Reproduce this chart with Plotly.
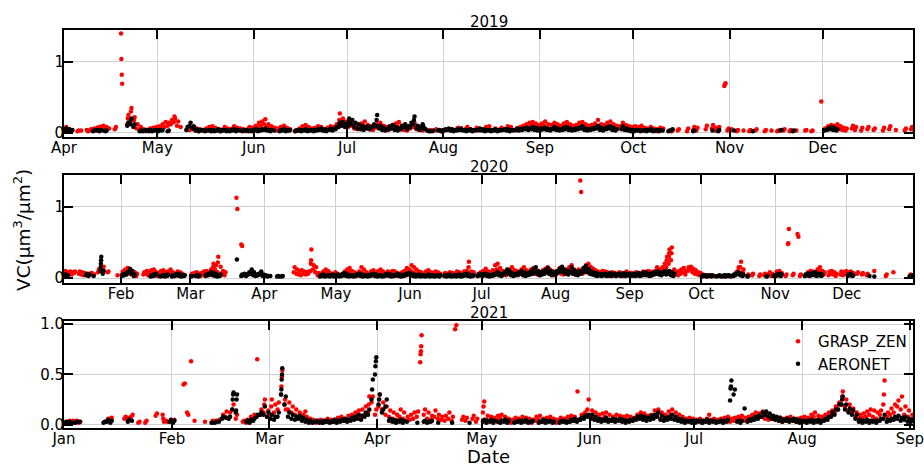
import plotly.graph_objects as go
from datetime import datetime, timedelta

# ---------------- DATA (values in hundredths of um^3/um^2) ----------------
# each entry: (first day, "day1|day2|..."), values per consecutive day, "-" = no data
GRASP_2019 = [
    ("2019-04-01", "6 8|4 5|3|-|2 3|3|-|4 2|3 5|4 6|5 7|8 6|9 10|7 8|6|-|5 8|-|140 104 82 69|-|12 20 25|15 30 35|10 18 22|6 12|4 8|3 5|2 4|3 6|4 7|5 8"),
    ("2019-05-01", "5 9|6 12|8 15|10 14|12 18|15 23 20|10 16|8|-|-|4 6|5 7|3 6|2 5|4|3 6|5 8|6 9|4 7|3 5|2 4|5 8|4 6|3 5|6 9|5 7|4 6|3 5|2 4|6 8|4 7"),
    ("2019-06-01", "5 10|8 14|10 16|12 19|8 12|5 9|4 7|3 6|5 8|6 10|4 7|3 5|-|2 4|3 6|5 9|6 11|4 8|3 6|5 7|6 9|4 8|3 5|5 7|6 9|4 8|8 12|12 18 27|15 20|10 16"),
    ("2019-07-01", "8 14|10 15|6 12|5 10|8 13|10 16|6 11|5 9|4 8|7 12|9 14|6 10|5 8|4 7|6 11|8 13|9 15|5 10|4 8|3 6|6 10|8 14|5 9|4 7|3 6|-|2 4|-|3 5|-|2 3"),
    ("2019-08-01", "-|4|3 5|-|5 7|4 6|-|6 8|5|-|4 7|3 5|-|5 8|6 9|-|4 6|3|5 7|-|6 9|4 8|-|3 6|5 8|7 10|6 12|8 14|10 15|9 13|6 11"),
    ("2019-09-01", "8 13|10 16|6 12|5 11|9 14|7 12|6 10|8 13|10 15|7 12|5 10|6 11|8 14|9 15|7 12|5 10|6 11|8 13|10 18|7 12|6 11|8 14|9 16|7 12|5 10|6 9|8 14|6 11|5 9|4 8"),
    ("2019-10-01", "5 9|4 8|6 10|3 7|4 6|5 8|3 6|2 5|4 7|3 6|-|-|2 4|-|3 5|-|-|2 6|-|4 8|3 7|-|-|5 10|-|6 11|3 7|4 8|-|66 68 70|3 6"),
    ("2019-11-01", "3 5|-|2 4|-|3|-|2 4|-|3 5|-|-|2 4|-|3|-|2 3|-|3 5|-|2 4|-|3|-|-|3 4|-|2 3|-|-|44"),
    ("2019-12-01", "3 6|5 9|7 11|6 10|8 12|5 9|4 7|3 6|-|6 10|4 8|-|3 7|-|5 8|-|4 6|-|-|3 7|-|5 9|-|4|-|-|3 6|-|5 8|4 7"),
]
AERONET_2019 = [
    ("2019-04-01", "4 6|3 5|2 4|-|-|-|-|-|-|2 3|3 4|2 4|3|2 3|-|-|-|-|-|-|10 14|12 18 20|8 12|-|2 3|2 3|3 4|2 4|2 3|3 4"),
    ("2019-05-01", "2 4|3 4|-|2 3|-|-|-|-|-|4 8|10 14|6 9|3 5|2 4|3 4|2 3|3 4|2 4|2 3|3 5|2 4|3 4|2 3|2 4|3 5|2 4|3|2 4|3 4|2 3|2 4"),
    ("2019-06-01", "3 5|2 4|3 5|4 6|3 4|2 4|3|-|2 4|3 5|2 4|3 4|-|2 3|3 4|2 4|3 5|2 4|3 4|2 4|3 5|4 6|3 5|2 4|4 6|3 5|5 8|8 12 14|10 15|8 12"),
    ("2019-07-01", "10 16 20|12 18|8 14|6 12|5 10|4 8|6 9|5 8|8 12|10 18 25|6 10|4 7|3 5|5 9|6 11|4 8|3 6|5 10|8 12|5 9|8 14|12 18 23|6 10|4 8|12 9 6|5 3|2|2 3|-|3 4|2 3"),
    ("2019-08-01", "3 5|4 6|3 5|2 4|3 5|4 6|3 4|2 4|3 5|2 4|3 4|4 6|3 5|2 4|3 4|2 4|3 5|2 4|3 4|4 5|3 5|2 4|3 4|4 6|3 5|4 6|5 7|4 6|5 8|4 7|3 6"),
    ("2019-09-01", "4 6|5 7|4 6|3 5|5 8|4 6|3 5|4 7|5 8|4 6|3 5|4 6|5 7|6 9|4 6|3 5|4 6|5 7|6 10|4 7|3 6|5 8|6 9|4 7|3 5|-|5 9|4 6|3 5|2 4"),
    ("2019-10-01", "2 4|3 4|2 3|3 4|2 4|3 5|2 3|3 4|2 4|3|-|2 3|3 5|-|-|-|-|-|-|2 3|-|-|-|-|-|3|-|2 4|-|-|-"),
    ("2019-11-01", "-|3|-|-|-|-|-|2|-|-|-|-|-|-|-|-|3 4|-|-|-|2 3|-|-|-|-|-|-|-|-|-"),
    ("2019-12-01", "3|4 6|5 8|4 7|3 5"),
]
GRASP_2020 = [
    ("2020-01-08", "5 10|4 8|6 9|5 8|7 9|-|6 9|5 8|4 7|-|5 6|6 7|4 5|-|8 12|10 15|12 16|-|8 9|-|-|-|4|-"),
    ("2020-02-01", "5 9|6 12|8 14|7 12|5 10|4 8|3 6|-|-|5 8|6 10|4 9|5 11|6 12|4 8|3 7|5 10|6 11|4 8|5 9|6 12|4 8|3 6|5 9|4 8|3 6|-|-|-"),
    ("2020-03-01", "3 6|4 7|5 8|4 6|3 7|5 9|6 10|4 8|8 12|10 15 20|12 18|8 22 30|6 16|5 10|4 8|-|-|-|-|113 97|-|47 45|-|-|-|-|-|-|-|-|-"),
    ("2020-04-01", "-|-|-|-|-|-|-|-|-|-|-|-|8 15|6 12|5 10|4 11|6 9|5 8|6 9|10 20 25 40|12 18|8 15|4 7|3 6|5 9|8 12|6 10|4 7|3 5|5 8"),
    ("2020-05-01", "4 6|-|3 5|5 9|6 12|8 14|5 10|4 8|3 6|5 9|8 15|6 12|4 8|3 6|5 9|6 11|4 8|5 10|6 12|4 9|3 6|5 9|4 8|6 10|5 9|4 7|3 6|5 8|6 10|8 14|6 12"),
    ("2020-06-01", "10 18|8 15|6 12|5 9|4 8|3 6|5 9|6 11|4 8|3 7|5 9|4 8|3 6|-|4 7|3 6|5 8|4 7|3 6|5 9|4 8|3 6|5 9|6 10|8 15 23|5 9|4 8|-|3 6|5 8"),
    ("2020-07-01", "6 10|8 13|5 9|4 8|6 11|10 18|12 20|8 14|6 10|5 9|4 8|6 12|8 15|6 11|5 10|4 8|6 12|8 15|6 11|5 9|7 12|8 14|6 10|5 9|4 8|6 11|8 13|9 15|6 12|5 10|4 8"),
    ("2020-08-01", "6 10|8 14|6 12|5 10|7 12|8 15|10 18|6 12|5 10|8 12|137 121|6 14|8 18|12 20|10 16|8 13|6 11|5 9|4 8|6 10|5 9|4 8|3 7|5 8|4 7|3 6|5 8|4 7|3 6|5 9|4 7"),
    ("2020-09-01", "4 7|3 6|5 8|4 7|3 6|5 9|4 8|6 10|5 9|4 8|6 10|15|8 12|10 15|12 20|15 25 30|20 30 35 40|25 35 43|8 12|5 8|4 10|6 12|8 14|5 10|10 15|12 16|8 13|6 11|5 8|4 7"),
    ("2020-10-01", "3 5|-|2 4|-|-|3|-|-|-|2 3|-|-|-|3 4|5 8|10 15|15 23|8 12|-|3 5|-|4 6|-|-|3 5|-|4 6|-|5 8|3 6|-"),
    ("2020-11-01", "5 9|6 10|4 7|-|3 5|48 49 69|-|4 6|-|62 58|3 5|-|-|4 8|6 10|5 9|4 7|8 12|10 15|6 10|5 8|-|4 9|6 10|5 8|3 6|-|5 9|4 8|6 10"),
    ("2020-12-01", "6 8|5 9|4 7|-|6 8|-|5 7|-|4 6|-|-|10|-|-|-|-|3 5|-|-|8|-|-|-|-|-|-|3 5|2 4"),
]
AERONET_2020 = [
    ("2020-01-08", "3 5|2 4|-|-|-|-|-|-|-|4 6|3 5|-|3|-|-|10 15 20 25 30|6 10"),
    ("2020-02-01", "3 5|4 6|5 8|8 13|6 10|3 5|-|-|-|-|-|-|2 4|3 5|4 6|-|2 3|3 4|2 4|3 5|-|2 4|3 5|4 6|3 5|2 4|3 4|-|-"),
    ("2020-03-01", "2 3|-|3 4|2 4|-|-|3 5|4 6|5 8|4 7|3 6|2 4|3 5|-|-|-|-|-|-|26|-|3 5|4 6|3 5|5 8|6 12|4 8|3 5|4 6|5 9|3 5"),
    ("2020-04-01", "3 4|2 3|3|-|-|2 3|2|2 3|-|-|-|-|-|-|-|-|-|-|-|-|-|-|-|2 4|3 5|2 3|3 4|2 4|3 5|2 4"),
    ("2020-05-01", "3 5|2 4|3 6|4 7|3 5|2 4|3 4|2 3|3 5|4 6|3 5|2 4|3 4|2 4|3 5|4 6|3 5|2 4|3 4|2 3|3 5|4 6|3 5|2 4|3 4|4 6|3 5|2 4|3 5|4 6|5 7"),
    ("2020-06-01", "4 6|3 5|2 4|3 5|2 4|3 4|2 3|3 5|2 4|3 4|2 3|3 4|2 4|-|3 4|2 4|3 5|2 3|3 4|2 4|3 5|2 4|3 5|4 6|3 5|2 4|3 4|-|3 5|4 6"),
    ("2020-07-01", "3 5|4 6|3 5|2 4|3 5|4 6|5 8|4 6|3 5|5 8|8 12|6 10|4 7|3 5|4 6|5 8|6 10|4 8|3 6|4 7|5 9|6 12|8 15|6 10|4 8|5 9|6 11|8 14|6 10|4 8|5 8"),
    ("2020-08-01", "6 10|8 13|10 16|8 12|6 10|5 9|8 15|6 11|5 9|4 8|6 10|8 14|10 17|8 13|6 10|5 8|4 7|3 6|4 6|3 5|4 6|3 5|4 7|3 5|4 6|3 5|4 6|3 5|4 7|3 5|4 6"),
    ("2020-09-01", "3 5|4 6|3 5|4 7|3 6|4 7|5 8|4 6|3 6|4 7|5 8|6 9|5 8|4 7|6 10|5 9|6 10|4 8|3 6"),
    ("2020-10-01", "2 4|3 4|2 3|3 4|2 4|-|2 3|3 4|2 3|3 4|2 4|3 4|2 3|3 5|4 6|6 8|4 6|3 5|-|2 3|-|-|-|-|-|-|-|2 3|-|-|3 4"),
    ("2020-11-01", "3 5|4 6|3 5|-|-|-|-|-|-|-|-|-|3 5|4 6|3 6|4 7|5 8|3 6|4 6|3 5"),
    ("2020-12-01", "3 5|4 6|3 4|-|-|-|-|-|-|3|-|2|-|-|-|-|-|-|-|-|-|-|-|-|-|-|2 3|2 4"),
]
GRASP_2021 = [
    ("2021-01-01", "2 3|3 4|2 4|3 4|2 3|-|-|-|-|-|-|-|4 6|5 7|-|-|-|6 8|5 7|8 10|-|2 3|-|2 4|-|-|9 11|-|10 6 3|4 3|-"),
    ("2021-02-01", "3 5|-|-|40 41|12 10|63|4|-|-|3|-|2 4|3 4|4 5|6 10|8 13|7 12|15 20|6 10|-|3 4|2 5|4 8|6 10|65|10 15|12 20 25|8 14"),
    ("2021-03-01", "10 18 25|12 20|15 22|30 38 48 54|20 25 15|15 22|12 18|10 15|8 12|6 10|13 8|4 6|3 5|2 4|3 5|2 4|3 6|4 5|3 5|4 7|5 8|4 6|5 9|6 10|8 12|10 14|8 15|10 18|12 20 28|22 28|10 15"),
    ("2021-04-01", "18 25 30|15 22|10 18|8 14|6 12|5 10|8 15|6 12|4 8|5 10|6 12|8 13|62 70 73 78 89|10 15|6 12|5 9|8 14|6 10|5 8|4 9|6 12|4 8|95 99|-|5 8|4 7|-|6 9|3 6|-"),
    ("2021-05-01", "12 18 23|5 9|4 8|3 7|5 9|6 10|4 8|3 6|2 5|4 7|3 6|5 8|4 7|3 6|2 5|4 8|5 9|3 6|4 7|5 8|3 6|2 5|4 7|3 6|5 8|6 9|4 8|33|6 10|8 12|15 25"),
    ("2021-06-01", "8 14|6 12|5 10|6 11|8 12|5 10|4 8|6 10|5 9|4 8|6 9|5 8|4 7|6 10|8 12|6 11|5 9|6 10|8 14|10 15|6 12|5 10|8 13|10 15|6 12|5 10|4 8|3 6|4 7|3 6"),
    ("2021-07-01", "3 5|4 6|2 4|3 6|10 5|4 6|3 5|4 6|5 7|6 8|3 6|4 7|5 8|6 9|4 7|5 8|6 10|8 12|7 11|8 13|6 10|5 9|6 8|5 7|4 7|3 6|4 7|5 8|4 6|3 6|4 7"),
    ("2021-08-01", "5 8|4 7|6 10|8 12|5 9|4 8|6 10|8 12|10 14|12 18|15 22|20 28 33|18 25|14 20|12 16|8 12|6 10|7 11|8 13|10 15|8 14|6 12|10 14|20 30 44|8 12|10 16|12 20|18 24|15 28|10 18|8 14"),
    ("2021-09-01", "6 10"),
]
AERONET_2021 = [
    ("2021-01-01", "2 3|2 3|2|2 3|3|-|-|-|-|-|-|2 3|3 5|2 4|-|-|-|-|3 5|4|-|-|-|-|-|-|-|-|-|-|3 5"),
    ("2021-02-01", "2 4|-|-|-|-|-|-|-|-|-|-|2|2 3|3|6 8|7|6 8|15 25 30 32|12 14 25 30|-|-|3 4|2 5|4 6|8 10|10 12|10 18|8 12"),
    ("2021-03-01", "6 10|5 8|8 12|30 35 45 50 56|20 28|8 12|6 10|5 8|6 9|4 7|3 5|2 4|2 3|3 4|2 3|2 4|3 4|2 3|3 5|2 4|3 5|4 6|3 5|4 7|5 8|6 10|5 9|8 12|10 15|25 35 45|50 58 63 67"),
    ("2021-04-01", "20 25 30|12 15|18 25|4 6|3 5|2 4|3 5|2 4|3|-|-|2|-|3 4|2 3|3 4|-|2|-|-|-|2|-|-|-|-|2|-|-|-"),
    ("2021-05-01", "3 5|2 4|3 5|2 4|3|2 4|3 5|2 4|-|2 3|3 4|2 4|3 5|2 3|3 4|-|2 3|3 5|2 4|3 4|2 3|-|2 4|3 4|2 3|3 5|4 6|3 5|5 7|6 9|8 10"),
    ("2021-06-01", "6 10|5 8|4 6|3 5|4 7|3 5|4 6|3 5|4 6|3 5|2 4|3 5|4 6|5 8|6 9|5 8|4 7|5 9|6 10|8 12|5 9|4 7|5 8|6 10|5 8|4 6|3 5|2 4|3 4|2 4"),
    ("2021-07-01", "2 4|3 4|2 4|3 5|2 4|3 4|2 3|3 4|2 4|3 5|24 36 38 44|30 35|3 4|2 4|16|3 5|4 6|5 8|6 9|8 12|10 13|8 11|6 9|5 8|4 7|3 5|4 6|3 5|4 6|3 5|2 4"),
    ("2021-08-01", "3 4|2 4|3 5|2 4|3 5|2 4|4 6|5 8|8 12|10 15|15 20|20 25 28|15 20|12 16|10 14|6 10|3 5|2 4|3 5|2 4|3 4|2 4|4 6|6 10|3 5|4 6|5 8|6 9|4 7|5 8|3 6"),
    ("2021-09-01", "3 5"),
]
YEARS = ["2019", "2020", "2021"]
X_RANGES = [["2019-04-01", "2019-12-30"], ["2020-01-08 02:00", "2020-12-28 17:00"], ["2021-01-01", "2021-09-01 21:00"]]
Y_RANGES = [[-0.06, 1.45], [-0.07, 1.449], [-0.033, 1.036]]
Y_TICKS = [[0, 1], [0, 1], [0, 0.5, 1.0]]
Y_TICKTEXT = [["0", "1"], ["0", "1"], ["0.0", "0.5", "1.0"]]
SERIES_NAMES = ["GRASP_ZEN", "AERONET"]
SERIES_COLORS = ["#ff0000", "#000000"]


def expand(blocks):
    xs, ys = [], []
    for start, groups in blocks:
        d0 = datetime.strptime(start, "%Y-%m-%d")
        for i, g in enumerate(groups.split("|")):
            g = g.strip()
            if g == "-" or not g:
                continue
            vals = [int(v) / 100.0 for v in g.split()]
            n = len(vals)
            for k, v in enumerate(vals):
                hour = 12.0 if n == 1 else 8.0 + 9.0 * k / (n - 1)
                xs.append(d0 + timedelta(days=i, hours=hour))
                ys.append(v)
    return xs, ys


DATA = [(GRASP_2019, AERONET_2019), (GRASP_2020, AERONET_2020), (GRASP_2021, AERONET_2021)]

FONT = "DejaVu Sans"
W, H = 924, 466
L, R, T, B = 64, 11, 30, 38
plot_h = H - T - B
boxes = [(30, 137), (175, 283), (320.5, 428)]


def frac(py):
    return (H - B - py) / plot_h


fig = go.Figure()
for p, (g, a) in enumerate(DATA):
    for s, blocks in enumerate((g, a)):
        xs, ys = expand(blocks)
        fig.add_trace(go.Scatter(
            x=xs, y=ys, mode="markers", name=SERIES_NAMES[s],
            marker=dict(color=SERIES_COLORS[s], size=4.5, line=dict(width=0)),
            showlegend=(p == 2), xaxis="x" + ("" if p == 0 else str(p + 1)),
            yaxis="y" + ("" if p == 0 else str(p + 1)),
        ))

layout = dict(
    width=W, height=H, margin=dict(l=L, r=R, t=T, b=B, autoexpand=False),
    paper_bgcolor="white", plot_bgcolor="white",
    font=dict(family=FONT, size=15, color="black"),
    legend=dict(x=0.841, y=frac(325), xanchor="left", yanchor="top", bgcolor="rgba(0,0,0,0)",
                font=dict(size=15), tracegroupgap=0, itemwidth=30),
    annotations=[],
)
for p in range(3):
    sfx = "" if p == 0 else str(p + 1)
    top, bot = boxes[p]
    layout["xaxis" + sfx] = dict(
        domain=[0, 1], anchor="y" + sfx, type="date", range=X_RANGES[p],
        dtick="M1", tick0="2019-01-01", tickformat="%b", automargin=False,
        ticklabeloverflow="allow",
        showgrid=True, gridcolor="#d0d0d0", gridwidth=1,
        showline=True, linecolor="black", linewidth=2, mirror="ticks",
        ticks="inside", ticklen=9, tickwidth=2, tickcolor="black",
        tickfont=dict(size=15), zeroline=False,
    )
    layout["yaxis" + sfx] = dict(
        domain=[frac(bot), frac(top)], anchor="x" + sfx, range=Y_RANGES[p],
        tickvals=Y_TICKS[p], ticktext=Y_TICKTEXT[p], automargin=False,
        showgrid=True, gridcolor="#d0d0d0", gridwidth=1,
        showline=True, linecolor="black", linewidth=2, mirror="ticks",
        ticks="inside", ticklen=9, tickwidth=2, tickcolor="black",
        tickfont=dict(size=15), zeroline=False,
    )
    layout["annotations"].append(dict(
        text=YEARS[p], xref="paper", yref="paper", x=0.5, y=frac(top),
        xanchor="center", yanchor="bottom", yshift=-3, showarrow=False,
        font=dict(size=15),
    ))
layout["annotations"].append(dict(
    text="VC(μm<sup>3</sup>/μm<sup>2</sup>)", xref="paper", yref="paper",
    x=0, xshift=-42, y=frac(230), xanchor="center", yanchor="middle",
    textangle=-90, showarrow=False, font=dict(size=18.5)))
layout["annotations"].append(dict(
    text="Date", xref="paper", yref="paper", x=0.5, y=0, yshift=-28.5,
    xanchor="center", yanchor="middle", showarrow=False, borderpad=0,
    font=dict(size=18)))

fig.update_layout(**layout)
try:
    fig.update_xaxes(ticklabelstandoff=-4)
    fig.update_yaxes(ticklabelstandoff=-5)
except Exception:
    pass
fig.write_html("out.html")
